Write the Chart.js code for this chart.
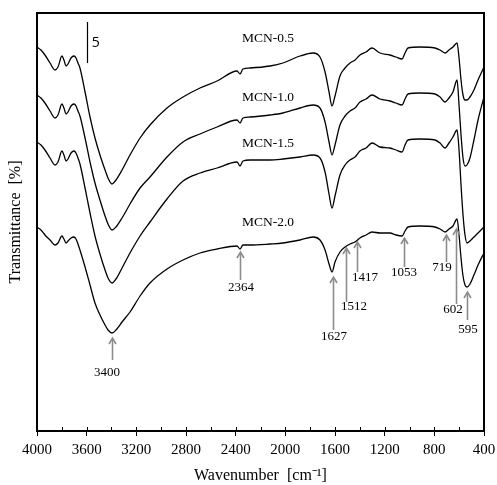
<!DOCTYPE html>
<html>
<head>
<meta charset="utf-8">
<script src="https://cdn.jsdelivr.net/npm/chart.js@4.4.0/dist/chart.umd.min.js"></script>
<style>
  html, body { margin: 0; padding: 0; background: #fff; }
</style>
</head>
<body>
<canvas id="grafico-ftir" width="497" height="485"></canvas>
<script>
// Espectros FTIR (deslocados verticalmente)
const wavenumbers = [4000, 3968, 3936, 3895, 3855, 3831, 3799, 3783, 3766, 3750, 3726, 3702, 3686, 3670, 3654, 3613, 3573, 3533, 3493, 3452, 3428, 3396, 3364, 3315, 3251, 3170, 3090, 2953, 2824, 2687, 2550, 2389, 2365, 2341, 2285, 2123, 2019, 1882, 1777, 1721, 1680, 1648, 1624, 1600, 1560, 1519, 1479, 1439, 1399, 1350, 1302, 1238, 1157, 1109, 1060, 1036, 1012, 915, 795, 754, 714, 682, 650, 617, 601, 585, 569, 553, 537, 513, 481, 448, 400];

const mcn05 = [384, 381, 376, 368, 361, 364, 375, 371, 365, 367, 373, 375, 373, 368, 363, 339, 314, 293, 276, 261, 253, 247, 251, 261, 276, 293, 306, 323, 334, 343, 350, 360, 357, 362, 363, 365, 368, 375, 378, 374, 359, 339, 325, 335, 355, 363, 368, 371, 376, 379, 383, 378, 376, 374, 372, 378, 383, 384, 383, 381, 378, 381, 384, 388, 373, 351, 336, 331, 331, 334, 341, 351, 364];
const mcn10 = [336, 333, 328, 320, 313, 316, 327, 323, 317, 319, 325, 327, 325, 320, 315, 293, 269, 248, 231, 215, 207, 201, 204, 213, 227, 243, 254, 274, 289, 297, 304, 311, 308, 313, 314, 316, 318, 323, 326, 323, 309, 289, 276, 286, 306, 315, 320, 323, 329, 332, 336, 332, 330, 328, 326, 332, 337, 338, 337, 334, 329, 333, 339, 351, 326, 296, 273, 265, 266, 273, 291, 311, 334];
const mcn15 = [289, 286, 281, 273, 266, 269, 280, 276, 270, 272, 278, 280, 278, 273, 267, 243, 218, 195, 177, 161, 153, 148, 152, 163, 178, 195, 209, 232, 250, 258, 263, 269, 265, 270, 271, 271, 272, 274, 276, 273, 259, 237, 223, 235, 256, 266, 271, 274, 280, 283, 288, 284, 283, 281, 279, 286, 291, 292, 291, 288, 283, 288, 294, 301, 281, 246, 216, 196, 188, 190, 194, 198, 204];
const mcn20 = [204, 201, 196, 191, 186, 188, 195, 192, 188, 190, 193, 194, 192, 187, 181, 164, 146, 128, 116, 106, 101, 98, 101, 109, 119, 135, 148, 162, 171, 178, 182, 185, 182, 186, 186, 187, 188, 191, 194, 191, 181, 167, 159, 169, 179, 184, 187, 189, 193, 196, 199, 198, 198, 196, 195, 200, 204, 205, 204, 202, 199, 202, 205, 212, 196, 173, 155, 146, 144, 147, 156, 166, 178];

const seriesNames = ['MCN-0.5', 'MCN-1.0', 'MCN-1.5', 'MCN-2.0'];
const seriesNameWn = 2140;
const seriesNameY = [393, 334, 288, 209];

// Setas das bandas (em MCN-2.0)
const peakLabels = ['3400', '2364', '1627', '1512', '1417', '1053', '719', '602', '595'];
const peakArrowWn = [3396, 2365, 1616, 1511, 1423, 1044, 706, 625, 537];
const peakHead = [93, 179, 154, 183, 189, 193, 196, 202, 139];
const peakTail = [71, 151, 101, 129, 159, 164, 169, 127, 111];
const peakTextWn = [3436, 2357, 1608, 1447, 1358, 1044, 738, 650, 529];
const peakTextY = [58, 143, 94, 124, 153, 158, 163, 121, 101];

// Barra de escala "5"
const scaleBarWn = 3597;
const scaleBarRange = [368, 409];
const scaleBarText = '5';
const scaleBarTextWn = 3560;
const scaleBarTextY = 388;

const serif = '"Liberation Serif", "Times New Roman", serif';

function pontos(valores) {
  return wavenumbers.map((w, i) => ({ x: w, y: valores[i] }));
}

const desenhoExtra = {
  id: 'desenhoExtra',
  afterDatasetsDraw(chart) {
    const { ctx, chartArea, scales } = chart;
    const x = scales.x, y = scales.y;
    ctx.save();

    // moldura
    ctx.strokeStyle = '#000';
    ctx.lineWidth = 2;
    ctx.strokeRect(chartArea.left, chartArea.top, chartArea.right - chartArea.left, chartArea.bottom - chartArea.top);

    // marcas internas do eixo x
    ctx.lineWidth = 1;
    x.ticks.forEach(t => {
      const px = Math.round(x.getPixelForValue(t.value)) + 0.5;
      ctx.beginPath();
      ctx.moveTo(px, chartArea.bottom);
      ctx.lineTo(px, chartArea.bottom - 4);
      ctx.stroke();
    });

    // nomes das séries
    ctx.fillStyle = '#000';
    ctx.font = '13.5px ' + serif;
    ctx.textAlign = 'center';
    ctx.textBaseline = 'middle';
    seriesNames.forEach((nome, i) => {
      ctx.fillText(nome, x.getPixelForValue(seriesNameWn), y.getPixelForValue(seriesNameY[i]));
    });

    // setas
    ctx.strokeStyle = '#8c8c8c';
    ctx.lineWidth = 1.6;
    peakLabels.forEach((rotulo, i) => {
      const px = Math.round(x.getPixelForValue(peakArrowWn[i])) + 0.5;
      const hy = y.getPixelForValue(peakHead[i]);
      const ty = y.getPixelForValue(peakTail[i]);
      ctx.beginPath();
      ctx.moveTo(px, ty);
      ctx.lineTo(px, hy + 1);
      ctx.stroke();
      ctx.beginPath();
      ctx.moveTo(px - 3.5, hy + 6);
      ctx.lineTo(px, hy);
      ctx.lineTo(px + 3.5, hy + 6);
      ctx.stroke();
    });

    ctx.fillStyle = '#000';
    ctx.font = '13px ' + serif;
    peakLabels.forEach((rotulo, i) => {
      ctx.fillText(rotulo, x.getPixelForValue(peakTextWn[i]), y.getPixelForValue(peakTextY[i]));
    });

    // barra de escala
    const bx = Math.round(x.getPixelForValue(scaleBarWn)) + 0.5;
    ctx.strokeStyle = '#000';
    ctx.lineWidth = 1.2;
    ctx.beginPath();
    ctx.moveTo(bx, y.getPixelForValue(scaleBarRange[0]));
    ctx.lineTo(bx, y.getPixelForValue(scaleBarRange[1]));
    ctx.stroke();
    ctx.font = '14px "Open Sans", "DejaVu Sans", sans-serif';
    ctx.textAlign = 'left';
    ctx.fillText(scaleBarText, x.getPixelForValue(scaleBarTextWn), y.getPixelForValue(scaleBarTextY));

    ctx.restore();
  }
};

const estiloLinha = {
  borderColor: '#000',
  borderWidth: 1.3,
  pointRadius: 0,
  fill: false,
  cubicInterpolationMode: 'monotone'
};

new Chart(document.getElementById('grafico-ftir').getContext('2d'), {
  type: 'line',
  data: {
    datasets: [
      { label: seriesNames[0], data: pontos(mcn05), ...estiloLinha },
      { label: seriesNames[1], data: pontos(mcn10), ...estiloLinha },
      { label: seriesNames[2], data: pontos(mcn15), ...estiloLinha },
      { label: seriesNames[3], data: pontos(mcn20), ...estiloLinha }
    ]
  },
  options: {
    responsive: false,
    animation: false,
    layout: { padding: { top: 13, right: 13, left: 0, bottom: 0 } },
    plugins: {
      legend: { display: false },
      tooltip: { enabled: false }
    },
    scales: {
      x: {
        type: 'linear',
        reverse: true,
        min: 400,
        max: 4000,
        border: { display: false },
        grid: {
          drawOnChartArea: false,
          tickLength: 5,
          tickColor: ctx => (ctx.tick && ctx.tick.value % 400 === 0) ? '#000' : 'rgba(0,0,0,0)'
        },
        ticks: {
          stepSize: 200,
          autoSkip: false,
          maxRotation: 0,
          padding: 5,
          color: '#000',
          font: { family: serif, size: 15 },
          callback: v => (v % 400 === 0 ? v : '')
        },
        title: {
          display: true,
          text: 'Wavenumber  [cm⁻¹]',
          color: '#000',
          font: { family: serif, size: 16 },
          padding: { top: 0, bottom: 0 }
        },
        afterFit: s => { s.height = 54; s.paddingLeft = 0; s.paddingRight = 0; }
      },
      y: {
        min: 0,
        max: 418,
        border: { display: false },
        grid: { display: false },
        ticks: { display: false },
        title: {
          display: true,
          text: 'Transmittance  [%]',
          color: '#000',
          font: { family: serif, size: 16 },
          padding: { top: 6, bottom: 0 }
        },
        afterFit: s => { s.width = 37; }
      }
    }
  },
  plugins: [desenhoExtra]
});
</script>
</body>
</html>
